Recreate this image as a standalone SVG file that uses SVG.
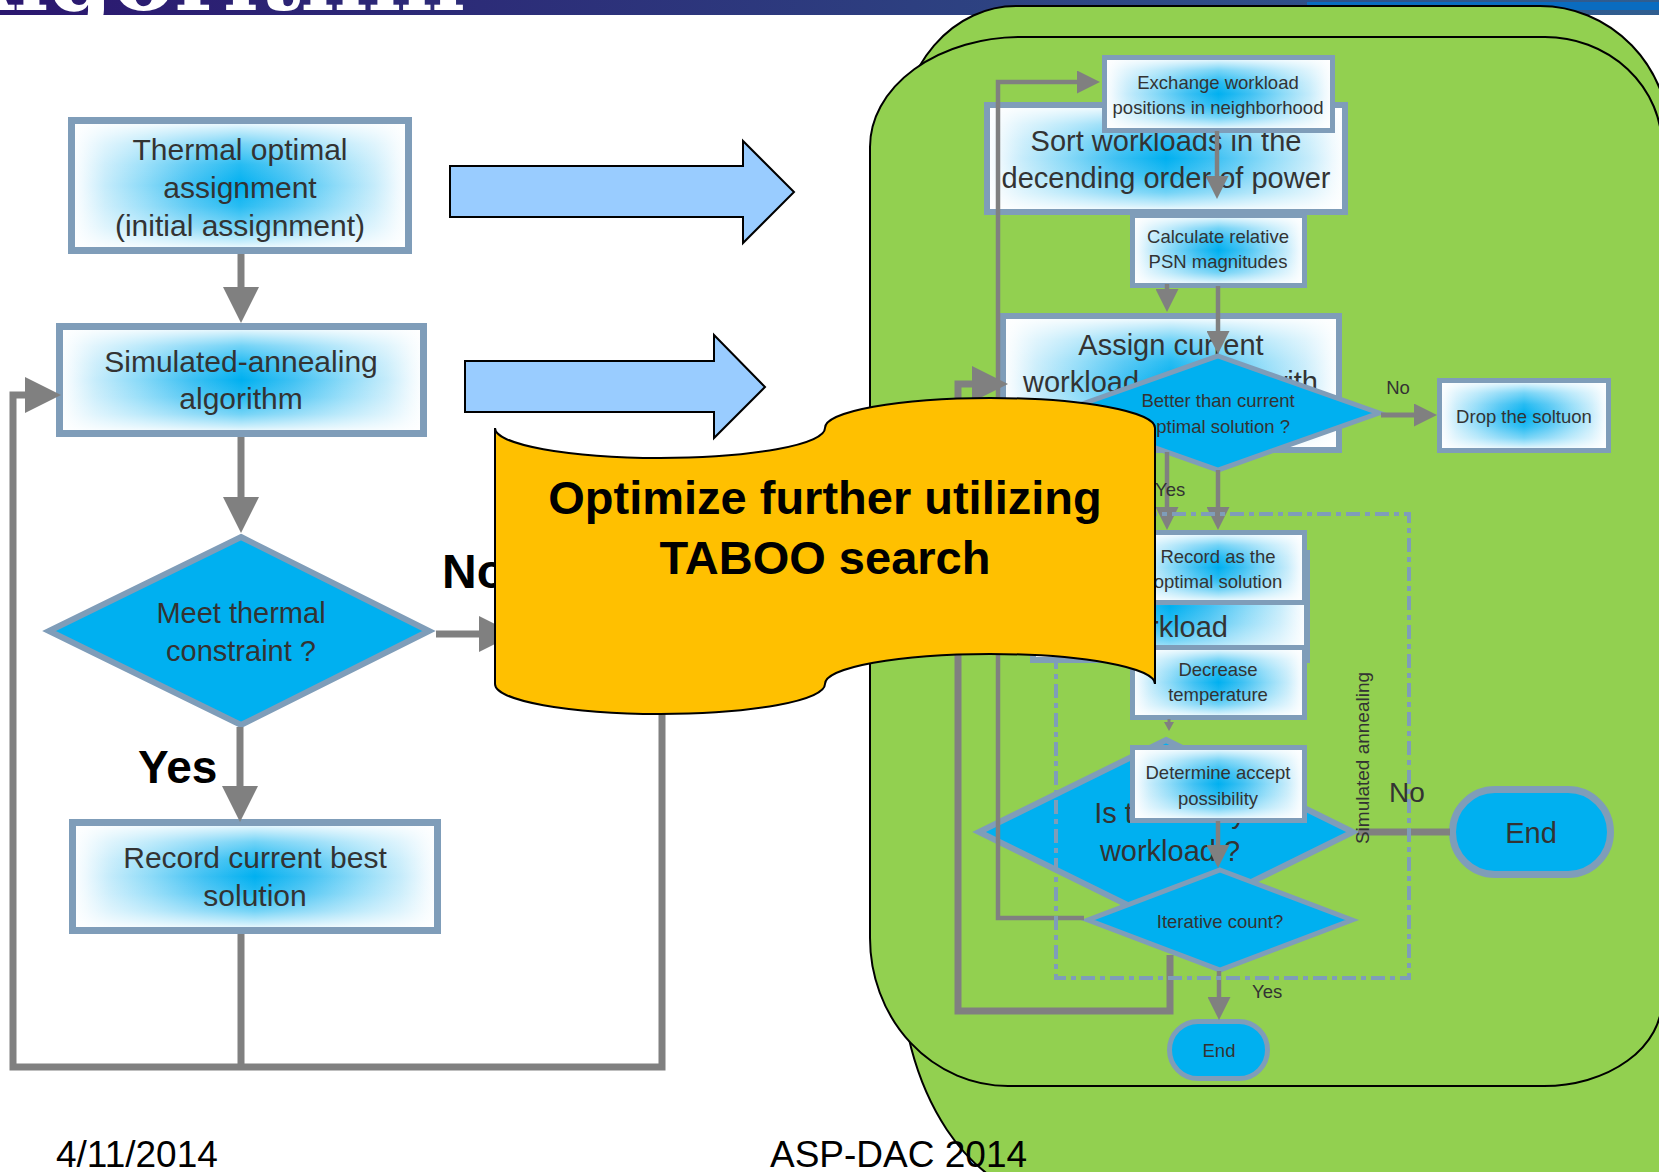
<svg xmlns="http://www.w3.org/2000/svg" width="1659" height="1172" viewBox="0 0 1659 1172">
<defs>
<linearGradient id="bar" x1="0" y1="0" x2="1" y2="0"><stop offset="0" stop-color="#2b176f"/><stop offset="0.55" stop-color="#2d3f80"/><stop offset="1" stop-color="#305e90"/></linearGradient>
<linearGradient id="gh" x1="0" y1="0" x2="1" y2="0"><stop offset="0" stop-color="#ffffff"/><stop offset="0.035" stop-color="#eef9fe"/><stop offset="0.1" stop-color="#c6ecfb"/><stop offset="0.22" stop-color="#8adaf8"/><stop offset="0.36" stop-color="#3fc1f3"/><stop offset="0.5" stop-color="#00b0f0"/><stop offset="0.64" stop-color="#3fc1f3"/><stop offset="0.78" stop-color="#8adaf8"/><stop offset="0.9" stop-color="#c6ecfb"/><stop offset="0.965" stop-color="#eef9fe"/><stop offset="1" stop-color="#ffffff"/></linearGradient>
<linearGradient id="gv" x1="0" y1="0" x2="0" y2="1"><stop offset="0" stop-color="#fff" stop-opacity="1"/><stop offset="0.06" stop-color="#fff" stop-opacity="0.8"/><stop offset="0.18" stop-color="#fff" stop-opacity="0.45"/><stop offset="0.34" stop-color="#fff" stop-opacity="0.15"/><stop offset="0.5" stop-color="#fff" stop-opacity="0"/><stop offset="0.66" stop-color="#fff" stop-opacity="0.15"/><stop offset="0.82" stop-color="#fff" stop-opacity="0.45"/><stop offset="0.94" stop-color="#fff" stop-opacity="0.8"/><stop offset="1" stop-color="#fff" stop-opacity="1"/></linearGradient>
<marker id="aL" viewBox="0 0 10 10" refX="0" refY="5" markerUnits="userSpaceOnUse" markerWidth="36" markerHeight="36" orient="auto" preserveAspectRatio="none"><path d="M0,0L10,5L0,10z" fill="#808080"/></marker>
<marker id="aM" viewBox="0 0 10 10" refX="0" refY="5" markerUnits="userSpaceOnUse" markerWidth="23" markerHeight="23" orient="auto" preserveAspectRatio="none"><path d="M0,0L10,5L0,10z" fill="#808080"/></marker>
<marker id="aS" viewBox="0 0 10 10" refX="0" refY="5" markerUnits="userSpaceOnUse" markerWidth="9" markerHeight="10" orient="auto" preserveAspectRatio="none"><path d="M0,0L10,5L0,10z" fill="#808080"/></marker>
</defs>
<style>
.bh{fill:url(#gh)}
.bx{stroke:#7f9db9;fill:url(#gv)}
.dm{fill:#00b0f0;stroke:#7f9db9}
.ln{fill:none;stroke:#808080;stroke-linejoin:miter}
.t{font-family:"Liberation Sans",Arial,sans-serif;fill:#333;text-anchor:middle}
.f18{font-size:18.5px}.f29{font-size:29px}.f30{font-size:30px}
.pill{fill:#00b0f0;stroke:#7f9db9}
.lbl{font-family:"Liberation Sans",Arial,sans-serif;font-weight:bold;fill:#000}
</style>
<rect width="1659" height="1172" fill="#ffffff"/>
<g id="titlebar">
<rect x="0" y="0" width="1659" height="15" fill="url(#bar)"/>
<rect x="1307" y="2" width="352" height="8" fill="#0a6cc0"/>
<text x="-58" y="10" font-family="'DejaVu Serif',serif" font-weight="bold" font-size="88" fill="#ffffff" textLength="523" lengthAdjust="spacingAndGlyphs">Algorithm</text>
</g>
<g id="green-back"><path d="M1016 6L1540 6A130 135 0 0 1 1670 141L1670 1200L1060 1200A160 240 0 0 1 900 960L900 141A116 135 0 0 1 1016 6Z" fill="#92d050" stroke="#000" stroke-width="2"/></g>
<g id="green-front"><path d="M1021 37L1545 37A117 110 0 0 1 1662 147L1662 1000A118 86 0 0 1 1544 1086L1008 1086A138 148 0 0 1 870 938L870 147A151 110 0 0 1 1021 37Z" fill="#92d050" stroke="#000" stroke-width="2"/></g>

<g id="n-sort"><rect class="bh" x="987" y="105" width="358" height="107"/><rect class="bx" x="987" y="105" width="358" height="107" stroke-width="6"/><text class="t f29" x="1166" y="151">Sort workloads in the</text><text class="t f29" x="1166" y="188">decending order of power</text></g>
<g id="n-exchange"><rect class="bh" x="1104.5" y="57.5" width="228" height="73"/><rect class="bx" x="1104.5" y="57.5" width="228" height="73" stroke-width="5"/><text class="t f18" x="1218" y="89">Exchange workload</text><text class="t f18" x="1218" y="114">positions in neighborhood</text></g>
<g id="n-calc"><rect class="bh" x="1132.5" y="215.5" width="172" height="70"/><rect class="bx" x="1132.5" y="215.5" width="172" height="70" stroke-width="5"/><text class="t f18" x="1218" y="243">Calculate relative</text><text class="t f18" x="1218" y="268">PSN magnitudes</text></g>
<g id="n-assign"><rect class="bh" x="1003" y="316" width="336" height="134"/><rect class="bx" x="1003" y="316" width="336" height="134" stroke-width="6"/><text class="t f29" x="1171" y="355">Assign current</text><text class="t f29" x="1023" y="392" style="text-anchor:start">workload</text><text class="t f29" x="1318" y="392" style="text-anchor:end">with</text></g>
<g id="n-better"><polygon class="dm" points="1218,356 1379,413 1218,470 1057,413" stroke-width="5"/><text class="t f18" x="1218" y="407">Better than current</text><text class="t f18" x="1218" y="433">optimal solution ?</text></g>
<g id="n-drop"><rect class="bh" x="1439.5" y="380.5" width="169" height="70"/><rect class="bx" x="1439.5" y="380.5" width="169" height="70" stroke-width="5"/><text class="t f18" x="1524" y="423">Drop the soltuon</text></g>
<g id="n-workload"><rect class="bh" x="1033" y="553" width="274" height="107"/><rect class="bx" x="1033" y="553" width="274" height="107" stroke-width="6"/><text class="t f29" x="1228" y="637" style="text-anchor:end">workload</text></g>
<g id="n-record2"><rect class="bh" x="1132.5" y="532.5" width="172" height="70"/><rect class="bx" x="1132.5" y="532.5" width="172" height="70" stroke-width="5"/><text class="t f18" x="1218" y="563">Record as the</text><text class="t f18" x="1218" y="588">optimal solution</text></g>
<g id="n-decrease"><rect class="bh" x="1132.5" y="647.5" width="172" height="70"/><rect class="bx" x="1132.5" y="647.5" width="172" height="70" stroke-width="5"/><text class="t f18" x="1218" y="676">Decrease</text><text class="t f18" x="1218" y="701">temperature</text></g>
<g id="n-isany"><polygon class="dm" points="1166,740 1353,832 1166,924 979,832" stroke-width="6"/><text class="t f29" x="1170" y="823">Is there any</text><text class="t f29" x="1170" y="861">workload ?</text></g>
<g id="n-determine"><rect class="bh" x="1132.5" y="747.5" width="172" height="73"/><rect class="bx" x="1132.5" y="747.5" width="172" height="73" stroke-width="5"/><text class="t f18" x="1218" y="779">Determine accept</text><text class="t f18" x="1218" y="805">possibility</text></g>
<g id="n-iter"><polygon class="dm" points="1220,870 1352,920 1220,970 1088,920" stroke-width="5"/><text class="t f18" x="1220" y="928">Iterative count?</text></g>
<g id="n-end1"><rect class="pill" x="1169.5" y="1021.5" width="98" height="57" rx="28.5" stroke-width="5"/><text class="t f18" x="1219" y="1057">End</text></g>
<g id="n-end2"><rect class="pill" x="1452.5" y="789.5" width="158" height="85" rx="42.5" stroke-width="7"/><text class="t f29" x="1531" y="843">End</text></g>

<g id="connectors-right">
<path class="ln" stroke-width="4.5" d="M1084 918H998V82H1077" marker-end="url(#aM)"/>
<path class="ln" stroke-width="4.5" d="M1217 131V176" marker-end="url(#aM)"/>
<path class="ln" stroke-width="4.5" d="M1167 284V289" marker-end="url(#aM)"/>
<path class="ln" stroke-width="4.5" d="M1218 286V331" marker-end="url(#aM)"/>
<path class="ln" stroke-width="4.5" d="M1167 452V507" marker-end="url(#aM)"/>
<path class="ln" stroke-width="4.5" d="M1218 470V507" marker-end="url(#aM)"/>
<path class="ln" stroke-width="5" d="M1381 415H1414" marker-end="url(#aM)"/>
<path class="ln" stroke-width="3" d="M1169 719V722" marker-end="url(#aS)"/>
<path class="ln" stroke-width="4.5" d="M1218 821V845" marker-end="url(#aM)"/>
<path class="ln" stroke-width="4.5" d="M1219 971V997" marker-end="url(#aM)"/>
<path class="ln" stroke-width="7" d="M1358 832H1450"/>
<path class="ln" stroke-width="7" d="M1170 955V1011H958V384H972" marker-end="url(#aL)"/>
</g>
<g id="sa-container">
<rect x="1056" y="514" width="353" height="464" fill="none" stroke="#7f9db9" stroke-width="4" stroke-dasharray="14 5 5 5"/>
<text class="t" font-size="19" transform="translate(1369,758) rotate(-90)">Simulated annealing</text>
</g>
<g id="labels-right">
<text class="t f18" x="1398" y="394">No</text>
<text class="t f18" x="1155" y="496" style="text-anchor:start">Yes</text>
<text class="t" font-size="28" x="1389" y="802" style="text-anchor:start">No</text>
<text class="t f18" x="1252" y="998" style="text-anchor:start">Yes</text>
</g>

<g id="n-thermal"><rect class="bh" x="71.5" y="120.5" width="337" height="130"/><rect class="bx" x="71.5" y="120.5" width="337" height="130" stroke-width="7"/><text class="t f30" x="240" y="160">Thermal optimal</text><text class="t f30" x="240" y="198">assignment</text><text class="t f30" x="240" y="236">(initial assignment)</text></g>
<g id="n-sa"><rect class="bh" x="59.5" y="326.5" width="364" height="107"/><rect class="bx" x="59.5" y="326.5" width="364" height="107" stroke-width="7"/><text class="t f30" x="241" y="372">Simulated-annealing</text><text class="t f30" x="241" y="409">algorithm</text></g>
<g id="n-meet"><polygon class="dm" points="241,537 429,631 241,725 49,631" stroke-width="6"/><text class="t f29" x="241" y="623">Meet thermal</text><text class="t f29" x="241" y="661">constraint ?</text></g>
<g id="n-record"><rect class="bh" x="72.5" y="822.5" width="365" height="108"/><rect class="bx" x="72.5" y="822.5" width="365" height="108" stroke-width="7"/><text class="t f30" x="255" y="868">Record current best</text><text class="t f30" x="255" y="906">solution</text></g>
<g id="connectors-left">
<path class="ln" stroke-width="7" d="M241 254V287" marker-end="url(#aL)"/>
<path class="ln" stroke-width="7" d="M241 437V497" marker-end="url(#aL)"/>
<path class="ln" stroke-width="7" d="M436 634H479" marker-end="url(#aL)"/>
<path class="ln" stroke-width="7" d="M240 727V786" marker-end="url(#aL)"/>
<path class="ln" stroke-width="7" d="M662 690V1067H13V395H25" marker-end="url(#aL)"/>
<path class="ln" stroke-width="7" d="M241 934V1067"/>
</g>
<g id="labels-left">
<text class="lbl" font-size="48" x="442" y="588">No</text>
<text class="lbl" font-size="46" x="138" y="783">Yes</text>
</g>
<g id="block-arrows">
<polygon points="450,166 743,166 743,141 794,192 743,243 743,217 450,217" fill="#99ccff" stroke="#000" stroke-width="2"/>
<polygon points="465,361 714,361 714,335 765,387 714,438 714,412 465,412" fill="#99ccff" stroke="#000" stroke-width="2"/>
</g>
<g id="n-taboo">
<path d="M495 428A165 30 0 0 0 825 428A165 30 0 0 1 1155 428L1155 684A165 30 0 0 0 825 684A165 30 0 0 1 495 684Z" fill="#ffc000" stroke="#000" stroke-width="2"/>
<text class="lbl" font-size="47" x="825" y="514" text-anchor="middle">Optimize further utilizing</text>
<text class="lbl" font-size="47" x="825" y="574" text-anchor="middle">TABOO search</text>
</g>
<g id="footer">
<text x="56" y="1167" font-family="'Liberation Sans',Arial,sans-serif" font-size="37" fill="#000">4/11/2014</text>
<text x="770" y="1167" font-family="'Liberation Sans',Arial,sans-serif" font-size="37" fill="#000">ASP-DAC 2014</text>
</g>
</svg>
